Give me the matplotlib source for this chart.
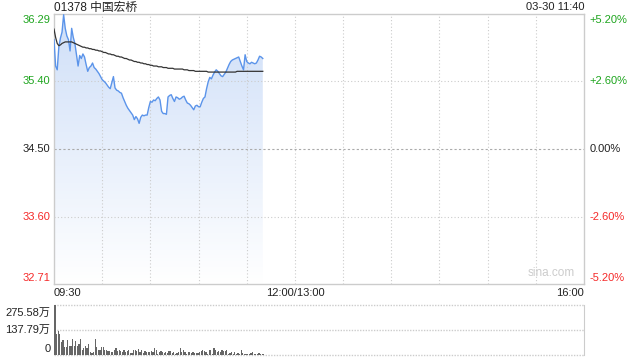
import matplotlib
matplotlib.use("Agg")
import matplotlib.pyplot as plt
import numpy as np
from matplotlib.colors import LinearSegmentedColormap

plt.rcParams['font.family'] = ['Liberation Sans', 'Noto Sans CJK SC', 'DejaVu Sans']

title = "01378 中国宏桥"
stamp = "03-30 11:40"
prev_close = 34.50
y_min, y_max = 32.71, 36.29
left_ticks = [36.29, 35.40, 34.50, 33.60, 32.71]
left_labels = ["36.29", "35.40", "34.50", "33.60", "32.71"]
right_labels = ["+5.20%", "+2.60%", "0.00%", "-2.60%", "-5.20%"]
x_labels = ["09:30", "12:00/13:00", "16:00"]
vol_labels = ["275.58万", "137.79万", "0"]
vol_max = 275.58
total_minutes = 330

price = [35.95, 35.60, 35.55, 35.85, 35.97, 36.05, 36.28, 36.10, 36.00, 35.95,
         35.80, 36.10, 35.98, 35.90, 35.75, 35.60, 35.74, 35.70, 35.76, 35.72,
         35.62, 35.53, 35.58, 35.60, 35.64, 35.58, 35.56, 35.53, 35.50, 35.46,
         35.42, 35.40, 35.38, 35.35, 35.32, 35.30, 35.38, 35.46, 35.31, 35.28,
         35.27, 35.25, 35.24, 35.18, 35.13, 35.08, 35.04, 35.01, 34.98, 34.95,
         34.89, 34.93, 34.90, 34.84, 34.92, 34.95, 34.94, 34.95, 34.95, 35.05,
         35.13, 35.12, 35.15, 35.14, 35.17, 35.19, 35.15, 35.00, 34.97, 34.97,
         34.96, 35.19, 35.21, 35.22, 35.17, 35.13, 35.19, 35.18, 35.16, 35.17,
         35.19, 35.20, 35.15, 35.11, 35.10, 35.08, 35.05, 35.02, 35.07, 35.08,
         35.06, 35.06, 35.12, 35.17, 35.19, 35.30, 35.39, 35.45, 35.43, 35.48,
         35.52, 35.55, 35.53, 35.50, 35.47, 35.46, 35.49, 35.52, 35.57, 35.62,
         35.66, 35.68, 35.69, 35.70, 35.71, 35.72, 35.66, 35.60, 35.55, 35.75,
         35.66, 35.64, 35.63, 35.65, 35.64, 35.63, 35.64, 35.68, 35.73, 35.72,
         35.70]

avg = [36.09, 35.98, 35.90, 35.87, 35.88, 35.90, 35.91, 35.92, 35.92, 35.92,
       35.92, 35.92, 35.91, 35.90, 35.89, 35.88, 35.87, 35.86, 35.85, 35.85,
       35.84, 35.84, 35.83, 35.83, 35.82, 35.82, 35.81, 35.81, 35.80, 35.80,
       35.79, 35.78, 35.78, 35.77, 35.76, 35.76, 35.75, 35.75, 35.74, 35.73,
       35.73, 35.72, 35.72, 35.71, 35.70, 35.70, 35.69, 35.68, 35.68, 35.67,
       35.66, 35.66, 35.65, 35.65, 35.64, 35.64, 35.63, 35.63, 35.62, 35.62,
       35.61, 35.61, 35.60, 35.60, 35.60, 35.59, 35.59, 35.59, 35.58, 35.58,
       35.58, 35.57, 35.57, 35.57, 35.57, 35.56, 35.56, 35.56, 35.56, 35.56,
       35.56, 35.55, 35.55, 35.55, 35.54, 35.54, 35.54, 35.54, 35.53, 35.53,
       35.53, 35.53, 35.53, 35.53, 35.53, 35.53, 35.52, 35.52, 35.52, 35.52,
       35.52, 35.52, 35.52, 35.52, 35.52, 35.52, 35.52, 35.52, 35.52, 35.52,
       35.52, 35.52, 35.52, 35.52, 35.53, 35.53, 35.53, 35.53, 35.53, 35.53,
       35.53, 35.53, 35.53, 35.53, 35.53, 35.53, 35.53, 35.53, 35.53, 35.53,
       35.53]

volume = [275.58, 114, 133, 115, 71, 81, 45, 43, 84, 50,
          52, 90, 52, 78, 50, 60, 88, 28, 40, 52,
          38, 62, 15, 12, 18, 90, 43, 30, 30, 43,
          45, 30, 28, 22, 20, 15, 18, 28, 40, 22,
          25, 20, 15, 28, 15, 20, 25, 9, 9, 28,
          28, 22, 35, 18, 30, 12, 20, 15, 14, 18,
          20, 14, 40, 28, 8, 18, 20, 15, 10, 16,
          12, 20, 22, 12, 15, 8, 10, 15, 38, 15,
          25, 18, 4, 15, 18, 12, 18, 12, 9, 10,
          14, 22, 28, 22, 15, 8, 28, 25, 8, 38,
          28, 18, 20, 18, 25, 22, 22, 25, 8, 10,
          14, 8, 18, 5, 12, 8, 30, 10, 5, 8,
          6, 8, 12, 15, 5, 8, 6, 10, 5, 8,
          4]

GREEN = "#1ea51e"
RED = "#f52a2a"
GRID = "#cccccc"

fig = plt.figure(figsize=(6.4, 3.6), dpi=100)
W, H = 640, 360

def axrect(x0, y0, x1, y1):
    return [x0 / W, 1 - y1 / H, (x1 - x0) / W, (y1 - y0) / H]

ax = fig.add_axes(axrect(54, 14, 584, 284))
ax.set_xlim(0, total_minutes)
ax.set_ylim(y_min, y_max)

x = np.arange(len(price))
p = np.array(price)

# gradient fill under price
poly = ax.fill_between(x, p, y_min, color="none", linewidth=0)
cmap = LinearSegmentedColormap.from_list("g", ["#ffffff", "#cfdff8"])
grad = np.linspace(0, 1, 256).reshape(-1, 1)
im = ax.imshow(grad, extent=[0, len(price) - 1, y_min, y_max], origin="lower",
               cmap=cmap, aspect="auto", zorder=1)
path = poly.get_paths()[0]
im.set_clip_path(path, transform=ax.transData)

# grid (drawn above the fill)
for i in range(1, 11):
    ax.axvline(i * 30, color=GRID, lw=0.8, ls=(0, (1, 2)), zorder=2)
for v in [35.40, 33.60]:
    ax.axhline(v, color=GRID, lw=0.8, ls=(0, (1, 2)), zorder=2)
ax.axhline(prev_close, color="#aaaaaa", lw=0.8, ls=(0, (2, 2)), zorder=2)

ax.plot(x, p, color="#5b94ea", lw=1.0, zorder=3)
ax.plot(x, avg, color="#333333", lw=0.9, zorder=4)

for s in ax.spines.values():
    s.set_color(GRID)
    s.set_linewidth(1)
ax.set_xticks([])
ax.set_yticks([])

lcolors = [GREEN, GREEN, "#222222", RED, RED]
vas = ["top", "center", "center", "center", "bottom"]
for v, lab, c, va, rl in zip(left_ticks, left_labels, lcolors, vas, right_labels):
    yy = v
    if va == "top":
        yy = v - 0.01
    if va == "bottom":
        yy = v + 0.01
    ax.text(-0.007, yy, lab, transform=ax.get_yaxis_transform(), ha="right", va=va,
            color=c, fontsize=8)
    ax.text(1.011, yy, rl, transform=ax.get_yaxis_transform(), ha="left", va=va,
            color=c, fontsize=8)

fig.text(54 / W, 1 - 7.5 / H, title, ha="left", va="center", fontsize=8.5, color="#222222")
fig.text(584 / W, 1 - 7.5 / H, stamp, ha="right", va="center", fontsize=8, color="#222222")

fig.text(54 / W, 1 - 293.5 / H, x_labels[0], ha="left", va="center", fontsize=8, color="#222222")
fig.text(295.5 / W, 1 - 293.5 / H, x_labels[1], ha="center", va="center", fontsize=8, color="#222222")
fig.text(584 / W, 1 - 293.5 / H, x_labels[2], ha="right", va="center", fontsize=8, color="#222222")

ax.text(0.982, 0.02, "sina.com", transform=ax.transAxes, ha="right", va="bottom",
        fontsize=8.5, color="#cccccc")

# volume panel
vax = fig.add_axes(axrect(54, 305, 584, 355))
vax.set_xlim(0, total_minutes)
vax.set_ylim(0, vol_max)
vax.bar(np.arange(len(volume)) + 0.6, volume, width=0.75, color="#666666",
        linewidth=0, zorder=3)
for v in [vol_max, vol_max / 2, 0]:
    vax.axhline(v, color=GRID, lw=1.0, ls=(0, (1, 1)), zorder=1, clip_on=False)
for s in ["left", "top", "bottom"]:
    vax.spines[s].set_visible(False)
vax.spines["right"].set_color(GRID)
vax.set_xticks([])
vax.set_yticks([])
for yy, lab in zip([312.7, 330, 349], vol_labels):
    fig.text(50.5 / W, 1 - yy / H, lab, ha="right", va="center", fontsize=8, color="#222222")

fig.savefig("out.png", dpi=100)
